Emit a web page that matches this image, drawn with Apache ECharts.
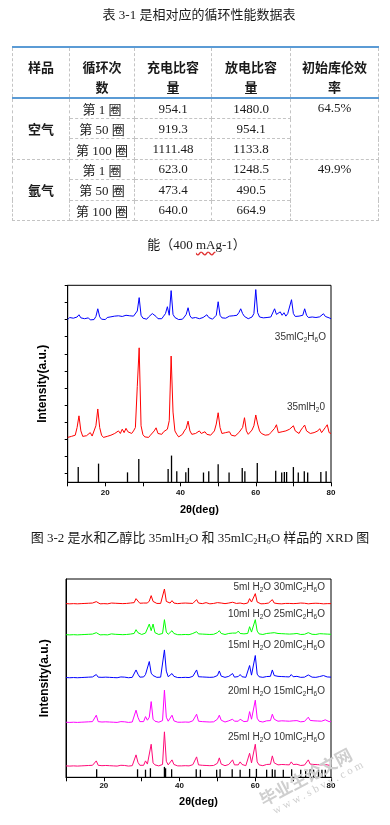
<!DOCTYPE html>
<html><head><meta charset="utf-8">
<script src="https://cdn.jsdelivr.net/npm/echarts@6/dist/echarts.min.js"></script>
<style>
html,body{margin:0;padding:0;background:#fff;}
body{width:390px;height:825px;position:relative;overflow:hidden;font-family:'Liberation Serif','Noto Sans CJK SC',serif;color:#1a1a1a;}
#c{position:absolute;left:0;top:0;width:390px;height:825px;z-index:1;}
.ov{position:absolute;z-index:2;white-space:nowrap;}
sub{font-size:0.62em;vertical-align:-0.3em;line-height:0;}
table{position:absolute;left:12px;top:46px;width:366px;border-collapse:collapse;table-layout:fixed;z-index:2;}
td,th{border:1px dashed #c4c4c4;text-align:center;font-size:13px;padding:0;font-weight:normal;}
th{font-family:'Noto Sans CJK SC',sans-serif;font-weight:bold;border-top:2px solid #5b9bd5;border-bottom:2px solid #5b9bd5;height:40px;vertical-align:top;padding-top:9px;line-height:20px;}
tbody tr{height:20.4px;}
td.g{font-family:'Noto Sans CJK SC',sans-serif;font-weight:bold;}
td.t{vertical-align:top;padding-top:1px;}
.lab{font-family:'Liberation Sans',Arial,sans-serif;color:#333;font-size:10px;text-align:right;}
.lab sub{font-size:6.5px;}
.wm{position:absolute;z-index:3;color:#cfcfcf;transform-origin:left bottom;white-space:nowrap;}
</style></head>
<body>
<div id="c"></div>

<div class="ov" style="left:0;width:398px;top:4px;text-align:center;font-size:13px;">表 3-1 是相对应的循环性能数据表</div>

<table>
<colgroup><col style="width:57px"><col style="width:65px"><col style="width:77px"><col style="width:79px"><col style="width:88px"></colgroup>
<thead><tr><th>样品</th><th>循环次<br>数</th><th>充电比容<br>量</th><th>放电比容<br>量</th><th>初始库伦效<br>率</th></tr></thead>
<tbody id="tb"></tbody>
</table>

<div class="ov" style="left:0;width:393px;top:234px;text-align:center;font-size:13px;">能（400 <span style="text-decoration:underline wavy #e03030;text-underline-offset:2px;">mA</span>g-1）</div>

<div class="ov" style="left:0;width:400px;top:527px;text-align:center;font-size:13px;">图 3-2 是水和乙醇比 35mlH<sub>2</sub>O 和 35mlC<sub>2</sub>H<sub>6</sub>O 样品的 XRD 图</div>

<div class="ov lab" style="right:64px;top:331px;">35mlC<sub>2</sub>H<sub>6</sub>O</div>
<div class="ov lab" style="right:65px;top:401px;">35mlH<sub>2</sub>0</div>

<div class="ov lab" style="right:65px;top:581px;">5ml H<sub>2</sub>O 30mlC<sub>2</sub>H<sub>6</sub>O</div>
<div class="ov lab" style="right:65px;top:608px;">10ml H<sub>2</sub>O 25mlC<sub>2</sub>H<sub>6</sub>O</div>
<div class="ov lab" style="right:65px;top:639px;">15ml H<sub>2</sub>O 20mlC<sub>2</sub>H<sub>6</sub>O</div>
<div class="ov lab" style="right:65px;top:685px;">20ml H<sub>2</sub>O 15mlC<sub>2</sub>H<sub>6</sub>O</div>
<div class="ov lab" style="right:65px;top:731px;">25ml H<sub>2</sub>O 10mlC<sub>2</sub>H<sub>6</sub>O</div>

<div class="wm" style="left:266px;top:786px;font-size:17px;font-weight:bold;font-family:'Noto Sans CJK SC';transform:rotate(-28deg);">毕业生论文网</div>
<div class="wm" style="left:276px;top:804px;font-size:11px;font-family:'Liberation Serif';letter-spacing:3px;transform:rotate(-28deg);">www.sbvv.com</div>

<script>
// ---------- table data ----------
const sampleNames = ['空气', '氩气'];
const cycleLabels = ['第 1 圈', '第 50 圈', '第 100 圈'];
const chargeCap = [['954.1', '919.3', '1111.48'], ['623.0', '473.4', '640.0']];
const dischargeCap = [['1480.0', '954.1', '1133.8'], ['1248.5', '490.5', '664.9']];
const coulombEff = ['64.5%', '49.9%'];

// ---------- XRD data ----------
const twoTheta = [
10,10.5,11,11.5,12,12.5,13,13.5,14,14.5,
15,15.5,16,16.5,17,17.5,18,18.5,19,19.5,
20,20.5,21,21.5,22,22.5,23,23.5,24,24.5,
25,25.5,26,26.5,27,27.5,28,28.5,29,29.5,
30,30.5,31,31.5,32,32.5,33,33.5,34,34.5,
35,35.5,36,36.5,37,37.5,38,38.5,39,39.5,
40,40.5,41,41.5,42,42.5,43,43.5,44,44.5,
45,45.5,46,46.5,47,47.5,48,48.5,49,49.5,
50,50.5,51,51.5,52,52.5,53,53.5,54,54.5,
55,55.5,56,56.5,57,57.5,58,58.5,59,59.5,
60,60.5,61,61.5,62,62.5,63,63.5,64,64.5,
65,65.5,66,66.5,67,67.5,68,68.5,69,69.5,
70,70.5,71,71.5,72,72.5,73,73.5,74,74.5,
75,75.5,76,76.5,77,77.5,78,78.5,79,79.5,
80];

// Fig 3-2 (top chart)
const ethanol35 = [
950,962,952,958,948,965,978,960,950,955,
952,960,948,956,950,968,1013,966,952,958,
950,962,954,966,958,970,960,972,962,968,
960,975,965,972,962,970,975,1000,1078,975,
958,960,952,965,970,985,996,968,955,960,
955,970,985,1025,975,1119,980,962,955,950,
957,952,965,980,1019,972,958,955,962,958,
955,960,962,970,978,962,956,952,960,975,
1054,975,960,965,958,962,970,965,972,968,
975,990,1013,985,968,960,955,958,965,985,
1125,990,965,958,960,955,962,958,965,975,
1013,980,970,995,975,990,970,985,975,1066,
985,968,962,970,965,975,1013,975,962,958,
965,955,962,958,966,970,984,968,972,960,
955];
const water35 = [
262,255,268,260,275,320,388,300,268,262,
272,265,290,270,278,330,428,320,275,262,
258,268,262,275,268,285,278,300,285,310,
290,315,295,305,285,300,320,560,785,330,
278,265,272,262,275,285,300,318,285,290,
280,295,290,310,360,737,410,300,280,265,
270,280,300,315,357,300,280,270,285,275,
300,285,275,295,280,290,275,285,300,340,
406,320,285,275,290,280,295,275,285,270,
280,290,300,320,377,300,280,290,305,330,
393,340,300,285,290,275,285,278,290,300,
315,336,290,280,295,285,300,290,310,320,
330,300,290,285,305,320,334,300,290,285,
280,290,285,300,313,290,300,320,336,290,
285];
const refPos1 = [12.8,18.2,25.9,28.9,36.7,37.6,39.0,41.4,42.1,46.1,47.5,50.0,52.9,56.4,57.1,60.4,65.3,66.9,67.6,68.2,70.0,71.3,72.9,73.8,77.3,78.7];
const refInt1 = [89,109,58,136,78,156,64,58,84,57,64,105,57,84,64,113,68,57,60,60,89,57,64,57,60,64];
const yTicks1 = [50,150,250,350,450,550,650,750,850,950,1050,1150];

// Fig 3-3 (bottom chart)
const w5e30 = [
867,870,866,868,867,869,866,868,867,870,
868,866,869,867,870,868,877,869,866,868,
867,869,866,868,870,867,869,866,868,870,
867,869,868,866,870,868,872,892,880,869,
868,870,876,870,880,907,878,870,868,867,
868,872,940,878,869,870,882,870,868,867,
867,869,868,870,866,869,870,868,872,887,
870,868,867,869,872,868,866,870,868,869,
872,880,870,868,867,866,870,868,874,869,
868,867,870,869,866,868,870,892,875,872,
917,875,868,866,869,867,868,870,872,887,
870,868,867,869,866,870,868,872,868,870,
867,869,868,866,870,867,869,868,866,870,
868,866,869,867,868,870,866,869,867,868,
867];
const w10e25 = [
712,714,711,713,712,715,711,713,712,714,
713,711,714,712,715,713,722,714,711,713,
712,714,711,713,716,712,714,711,713,715,
712,714,713,711,715,713,718,737,722,714,
713,715,720,718,765,732,765,722,715,713,
714,718,787,725,714,716,732,718,713,712,
714,712,715,713,716,712,714,718,716,727,
716,713,715,712,714,716,713,715,714,718,
722,732,718,714,713,716,718,715,720,714,
720,730,718,714,716,713,718,752,725,716,
787,730,716,714,713,715,718,716,720,727,
722,728,718,715,717,714,716,718,715,722,
716,714,718,715,713,716,714,718,722,716,
714,716,713,715,717,714,716,720,715,713,
714];
const w15e20 = [
498,500,497,499,498,501,497,499,498,500,
499,497,500,498,501,499,513,500,497,499,
498,500,497,499,501,498,500,497,499,501,
498,500,499,497,501,499,503,536,515,500,
499,501,513,505,578,520,508,501,499,498,
500,505,636,530,502,500,518,504,499,498,
500,498,501,499,502,498,500,504,502,536,
502,499,501,498,500,502,499,501,500,504,
508,531,505,500,499,502,504,501,518,500,
505,503,513,502,501,499,504,558,510,503,
608,515,502,500,499,501,503,500,504,536,
508,512,504,501,503,500,502,504,501,513,
502,500,504,501,499,502,500,503,511,502,
500,502,499,501,503,500,508,502,501,499,
500];
const w20e15 = [
275,277,274,276,275,278,274,276,275,277,
276,274,277,275,278,276,310,278,274,276,
275,277,274,276,278,275,277,274,276,278,
275,277,276,274,278,276,285,335,300,278,
276,278,303,285,300,378,290,280,277,275,
277,283,435,300,280,278,310,282,276,275,
277,275,278,276,279,275,277,282,285,315,
280,276,278,275,277,279,276,278,277,282,
290,310,285,278,276,279,282,278,290,280,
283,280,290,282,278,276,280,328,290,283,
385,295,280,277,276,278,282,279,283,315,
290,285,280,278,282,279,281,283,280,288,
282,279,283,280,277,281,279,282,300,284,
280,282,278,281,283,280,285,287,280,278,
279];
const w25e10 = [
57,59,56,58,57,60,56,58,57,59,
58,56,59,57,60,58,82,60,56,58,
57,59,56,58,60,57,59,56,58,60,
57,59,58,56,60,58,65,112,75,60,
58,60,82,66,75,165,72,62,59,57,
59,64,227,80,62,60,87,64,58,57,
59,57,60,58,61,57,59,63,66,102,
62,58,60,57,59,61,58,60,59,64,
70,97,66,60,58,61,64,60,87,62,
64,62,77,64,60,58,62,120,72,64,
165,77,62,59,58,60,64,61,65,107,
72,70,62,60,64,61,63,65,62,77,
64,61,65,62,59,63,61,64,87,66,
62,64,60,63,65,62,67,64,62,60,
61];
const refPos2 = [18.1,28.9,31.0,32.3,36.0,36.3,37.9,44.4,45.5,49.8,50.7,53.9,56.0,58.5,60.3,63.0,64.5,65.2,67.4,69.6,72.0,73.3,74.5,75.4,76.7,77.6,78.5];
const refInt2 = [40,40,38,45,52,45,40,40,38,38,40,40,38,42,42,38,40,38,38,40,38,38,40,38,38,38,38];

const xTickLabels = [20, 40, 60, 80];

// ---------- build table ----------
(function(){
  const tb = document.getElementById('tb');
  let html = '';
  for (let g = 0; g < sampleNames.length; g++) {
    for (let r = 0; r < cycleLabels.length; r++) {
      html += '<tr>';
      if (r === 0) html += '<td class="g" rowspan="3">' + sampleNames[g] + '</td>';
      html += '<td>' + cycleLabels[r] + '</td><td>' + chargeCap[g][r] + '</td><td>' + dischargeCap[g][r] + '</td>';
      if (r === 0) html += '<td class="t" rowspan="3">' + coulombEff[g] + '</td>';
      html += '</tr>';
    }
  }
  tb.innerHTML = html;
})();

// ---------- chart ----------
const pairs = ys => ys.map((y, i) => [twoTheta[i], y]);
const sticks = (p, h) => p.map((x, i) => [x, h[i]]);

const chart = echarts.init(document.getElementById('c'), null, {renderer: 'canvas', width: 390, height: 825});

function xAx(gi, gap, margin) {
  return {
    gridIndex: gi, type: 'value', min: 10, max: 80, interval: 10,
    axisLine: {show: true, onZero: false, lineStyle: {color: '#000', width: 1}},
    axisTick: {show: true, length: 4, lineStyle: {color: '#000', width: 1}},
    splitLine: {show: false},
    axisLabel: {fontSize: 8, fontWeight: 'bold', color: '#111', margin: margin, fontFamily: 'Liberation Sans',
      formatter: v => xTickLabels.indexOf(v) >= 0 ? String(v) : ''},
    name: '2θ(deg)', nameLocation: 'middle', nameGap: gap,
    nameTextStyle: {fontSize: 11, fontWeight: 'bold', color: '#000', fontFamily: 'Liberation Sans'}
  };
}

const lineS = (xi, data, color) => ({
  type: 'line', xAxisIndex: xi, yAxisIndex: xi, data: data, symbol: 'none', showSymbol: false,
  lineStyle: {color: color, width: 1}, itemStyle: {color: color}, silent: true, animation: false
});

chart.setOption({
  animation: false,
  textStyle: {fontFamily: 'Liberation Sans'},
  grid: [
    {left: 67.7, top: 285.3, width: 263.3, height: 197, show: true, borderColor: '#000', borderWidth: 1, containLabel: false},
    {left: 66, top: 579, width: 265, height: 198.3, show: true, borderColor: '#000', borderWidth: 1, containLabel: false}
  ],
  xAxis: [xAx(0, 22, 6), xAx(1, 19, 4)],
  yAxis: [
    {gridIndex: 0, type: 'value', min: 0, max: 1150,
     axisLine: {show: true, lineStyle: {color: '#000', width: 1}},
     axisTick: {show: true, length: 3, customValues: yTicks1, lineStyle: {color: '#000'}},
     axisLabel: {show: false}, splitLine: {show: false},
     name: 'Intensity(a.u.)', nameLocation: 'middle', nameRotate: 90, nameGap: 19,
     nameTextStyle: {fontSize: 12, fontWeight: 'bold', color: '#000', fontFamily: 'Liberation Sans'}},
    {gridIndex: 1, type: 'value', min: 0, max: 990,
     axisLine: {show: true, lineStyle: {color: '#000', width: 1}},
     axisTick: {show: false}, axisLabel: {show: false}, splitLine: {show: false},
     name: 'Intensity(a.u.)', nameLocation: 'middle', nameRotate: 90, nameGap: 15,
     nameTextStyle: {fontSize: 12, fontWeight: 'bold', color: '#000', fontFamily: 'Liberation Sans'}}
  ],
  series: [
    lineS(0, pairs(ethanol35), '#0000ff'),
    lineS(0, pairs(water35), '#ff0000'),
    {type: 'bar', xAxisIndex: 0, yAxisIndex: 0, data: sticks(refPos1, refInt1), barWidth: 1.3,
     itemStyle: {color: '#000'}, silent: true},
    lineS(1, pairs(w5e30), '#ff0000'),
    lineS(1, pairs(w10e25), '#00ff00'),
    lineS(1, pairs(w15e20), '#0000ff'),
    lineS(1, pairs(w20e15), '#ff00ff'),
    lineS(1, pairs(w25e10), '#ff0a78'),
    {type: 'bar', xAxisIndex: 1, yAxisIndex: 1, data: sticks(refPos2, refInt2), barWidth: 1.3,
     itemStyle: {color: '#000'}, silent: true}
  ]
});
</script>
</body></html>
